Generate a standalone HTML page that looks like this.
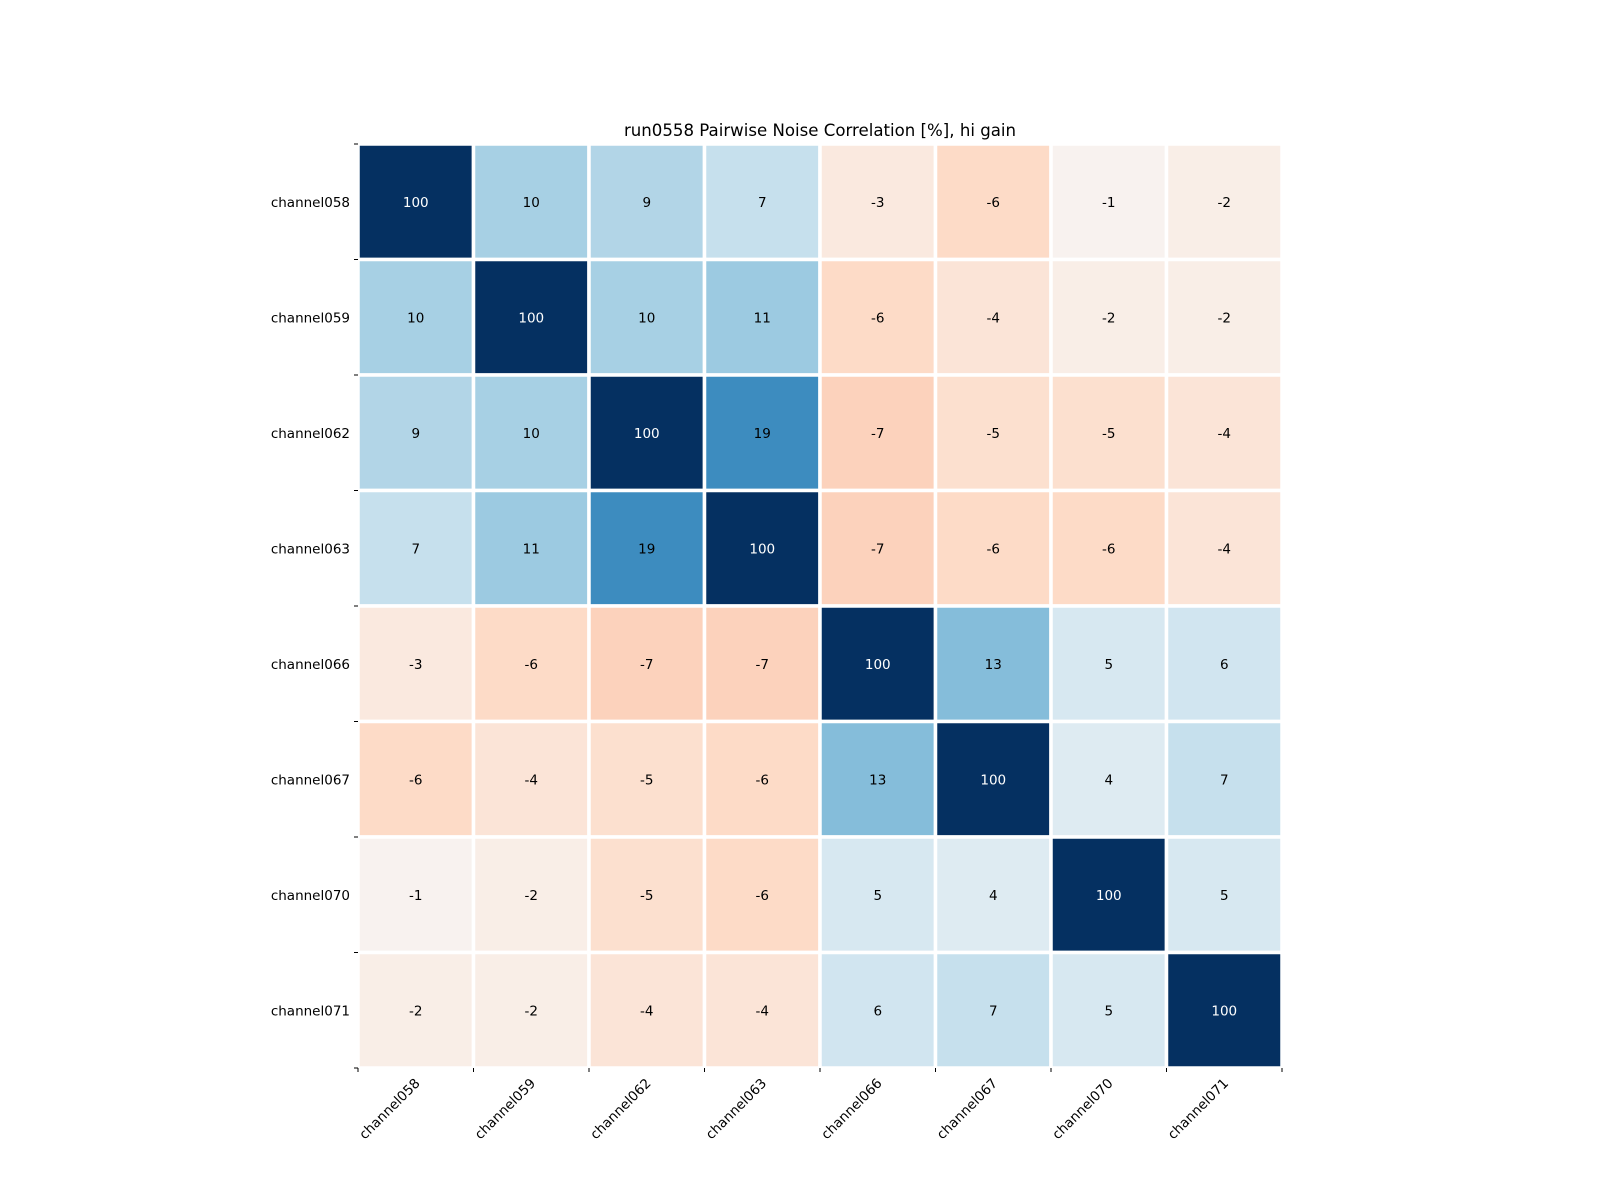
<!DOCTYPE html>
<html><head><meta charset="utf-8"><style>body{margin:0;background:#fff}svg{display:block;font-family:"DejaVu Sans","Liberation Sans",sans-serif}</style></head>
<body>
<svg id="chart" width="1600" height="1200" xmlns="http://www.w3.org/2000/svg">
<rect width="1600" height="1200" fill="#fff"/>
<text x="820" y="136" text-anchor="middle" font-size="16.6">run0558 Pairwise Noise Correlation [%], hi gain</text>
<g id="cells"></g>
<g id="axes"></g>
</svg>
<script>
const labels = ["channel058","channel059","channel062","channel063","channel066","channel067","channel070","channel071"];
const row0 = [100,10,9,7,-3,-6,-1,-2];
const row1 = [10,100,10,11,-6,-4,-2,-2];
const row2 = [9,10,100,19,-7,-5,-5,-4];
const row3 = [7,11,19,100,-7,-6,-6,-4];
const row4 = [-3,-6,-7,-7,100,13,5,6];
const row5 = [-6,-4,-5,-6,13,100,4,7];
const row6 = [-1,-2,-5,-6,5,4,100,5];
const row7 = [-2,-2,-4,-4,6,7,5,100];
const matrix = [row0,row1,row2,row3,row4,row5,row6,row7];
const vmin = -30, vmax = 30;

const NS = "http://www.w3.org/2000/svg";
const x0 = 358, y0 = 144, size = 924, n = labels.length, cw = size / n;
const stops = ["#67001f","#b2182b","#d6604d","#f4a582","#fddbc7","#f7f7f7","#d1e5f0","#92c5de","#4393c3","#2166ac","#053061"];
function hex(c){return [1,3,5].map(i=>parseInt(c.substr(i,2),16));}
function color(v){
  let t = Math.max(0, Math.min(1, (v - vmin) / (vmax - vmin))) * (stops.length - 1);
  let i = Math.min(Math.floor(t), stops.length - 2), f = t - i;
  const a = hex(stops[i]), b = hex(stops[i+1]);
  return "rgb(" + a.map((x,k)=>Math.round(x + (b[k]-x)*f)).join(",") + ")";
}
function xs(j){return x0 + j * cw;}
function ys(i){return y0 + i * cw;}
const cells = document.getElementById("cells"), axes = document.getElementById("axes");
function mk(tag, attrs, parent){const e = document.createElementNS(NS, tag); for (const k in attrs) e.setAttribute(k, attrs[k]); parent.appendChild(e); return e;}
matrix.forEach((row, i) => row.forEach((v, j) => {
  const r = mk("rect", {x: xs(j), y: ys(i), width: cw, height: cw, fill: color(v), stroke: "#fff", "stroke-width": 3.5}, cells);
  
  
  const t = mk("text", {x: xs(j) + cw/2, y: ys(i) + cw/2 + 5, "text-anchor": "middle", "font-size": 13.5, fill: Math.abs(v) > 24 ? "#fff" : "#000"}, cells);
  t.textContent = v;
  
  
}));
for (let k = 0; k <= n; k++) {
  const tl = mk("line", {x1: x0 - 4, x2: x0, y1: ys(k), y2: ys(k), stroke: "#000"}, axes);
  
  
  const tb = mk("line", {x1: xs(k), x2: xs(k), y1: y0 + size, y2: y0 + size + 4, stroke: "#000"}, axes);
  
  
}
labels.forEach((lab, i) => {
  const yl = mk("text", {x: x0 - 8, y: ys(i) + cw/2 + 5, "text-anchor": "end", "font-size": 13.5}, axes);
  yl.textContent = lab;
  
  
  const cx = xs(i) + cw/2 + 5, cy = y0 + size + 16;
  const xl = mk("text", {x: cx, y: cy, "text-anchor": "end", "font-size": 13.5, transform: "rotate(-45 " + cx + " " + cy + ")"}, axes);
  xl.textContent = lab;
  
  
});
</script>
</body></html>
